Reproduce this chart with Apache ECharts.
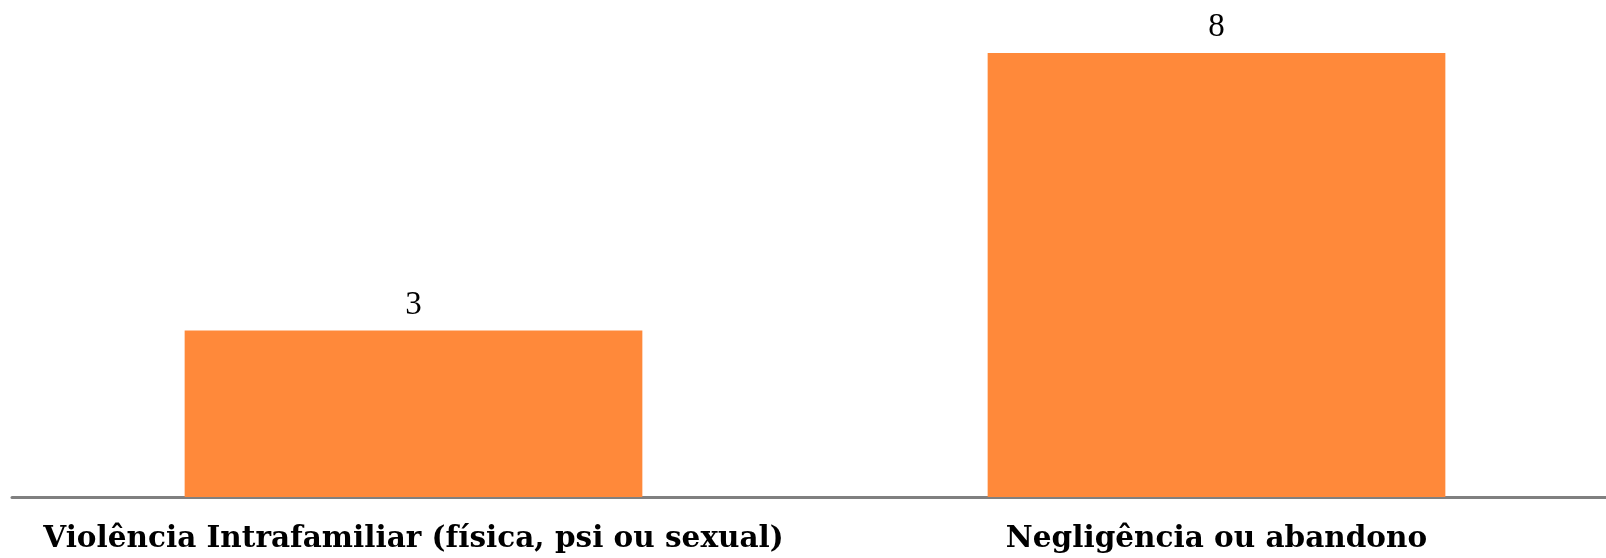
<!DOCTYPE html>
<html>
<head>
<meta charset="utf-8">
<script src="https://cdn.jsdelivr.net/npm/echarts@6/dist/echarts.min.js"></script>
<style>
  html, body { margin: 0; padding: 0; background: #fff; }
  #mainChart { width: 1606px; height: 558px; }
</style>
</head>
<body>
<div id="mainChart"></div>
<script>
// categories and values
const categories = ['Violência Intrafamiliar (física, psi ou sexual)', 'Negligência ou abandono'];
const values = [3, 8];

const chart = echarts.init(document.getElementById('mainChart'));

chart.setOption({
  animation: false,
  grid: { left: 12, top: 53, bottom: 61, width: 1606, outerBoundsMode: 'none', containLabel: false },
  xAxis: {
    type: 'category',
    data: categories,
    axisLine: { lineStyle: { color: '#808080', width: 3 } },
    axisTick: { show: false },
    axisLabel: {
      interval: 0,
      margin: 27,
      color: '#000',
      fontFamily: 'DejaVu Serif',
      fontWeight: 'bold',
      fontSize: 29.5
    }
  },
  yAxis: {
    type: 'value',
    min: 0,
    max: 8,
    show: false,
    splitLine: { show: false }
  },
  series: [{
    type: 'bar',
    data: values,
    barWidth: '57%',
    itemStyle: { color: '#FF893A' },
    label: {
      show: true,
      position: 'top',
      distance: 9,
      color: '#000',
      fontFamily: 'Liberation Serif',
      fontSize: 33
    }
  }]
});
</script>
</body>
</html>
